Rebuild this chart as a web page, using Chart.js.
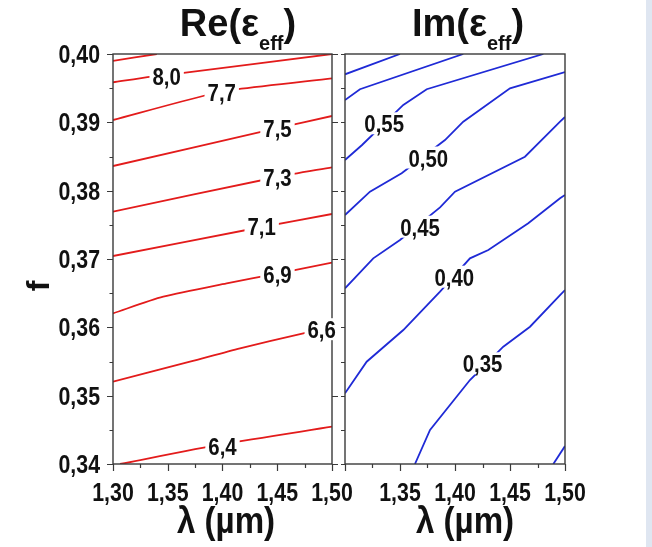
<!DOCTYPE html>
<html>
<head>
<meta charset="utf-8">
<script src="https://cdn.jsdelivr.net/npm/chart.js@4.4.0/dist/chart.umd.min.js"></script>
<style>
body{margin:0;background:#fff;}
#wrap{position:relative;width:652px;height:547px;overflow:hidden;background:#fff;}
#cRe{position:absolute;left:0;top:0;}
#cIm{position:absolute;left:300px;top:0;}
#strip{position:absolute;left:646px;top:0;width:6px;height:547px;background:#dfe6f1;}
</style>
</head>
<body>
<div id="wrap">
<canvas id="cRe" width="360" height="547" style="width:360px;height:547px"></canvas>
<canvas id="cIm" width="346" height="547" style="width:346px;height:547px"></canvas>
<div id="strip"></div>
</div>
<script>
// contour lines, points are [lambda (um), f]
var reTop = [[1.30,0.39898],[1.340,0.40]];
var re80 = [[1.30,0.39586],[1.3353,0.3967],[1.3627,0.3972],[1.50,0.40]];
var re77 = [[1.30,0.39034],[1.3856,0.3940],[1.413,0.39483],[1.50,0.39644]];
var re75 = [[1.30,0.38361],[1.45,0.38915],[1.50,0.39093]];
var re73 = [[1.30,0.37692],[1.45,0.38200],[1.50,0.38342]];
var re71 = [[1.30,0.37044],[1.43,0.37450],[1.50,0.37659]];
var re69 = [[1.30,0.36205],[1.3459,0.36448],[1.4038,0.36644],[1.45,0.36785],[1.50,0.36946]];
var re66 = [[1.30,0.35204],[1.3703,0.35497],[1.416,0.35693],[1.4738,0.35913],[1.49,0.3596]];
var re64 = [[1.3064,0.34],[1.40,0.34290],[1.50,0.34546]];

var reLabelText = ['8,0','7,7','7,5','7,3','7,1','6,9','6,6','6,4'];
var reLabelLam = [1.349,1.3993,1.4502,1.4502,1.4358,1.4502,1.4906,1.400];
var reLabelF = [0.39681,0.39448,0.38913,0.38193,0.37486,0.36778,0.35973,0.34266];

var im1 = [[1.30,0.39703],[1.35,0.40]];
var im2 = [[1.30,0.39327],[1.3136,0.39484],[1.4075,0.40]];
var im55 = [[1.30,0.38449],[1.3155,0.38668],[1.353,0.39254],[1.3743,0.39484],[1.4803,0.40]];
var im50 = [[1.30,0.37644],[1.3227,0.37985],[1.3515,0.38254],[1.3909,0.38741],[1.4075,0.39009],[1.45,0.39497],[1.50,0.39736]];
var im45 = [[1.30,0.36571],[1.3257,0.3701],[1.35,0.37278],[1.3864,0.37756],[1.40,0.37985],[1.4636,0.38497],[1.4955,0.39009],[1.50,0.39078]];
var im40 = [[1.30,0.35034],[1.3197,0.35497],[1.353,0.35961],[1.3864,0.36522],[1.4136,0.3701],[1.4303,0.37132],[1.4666,0.37522],[1.4955,0.37888],[1.50,0.37937]];
var im35 = [[1.3636,0.34],[1.3773,0.34498],[1.4136,0.35229],[1.4439,0.35717],[1.4682,0.36009],[1.4955,0.36473],[1.50,0.36546]];
var im30 = [[1.4894,0.34],[1.50,0.34263]];

var imLabelText = ['0,55','0,50','0,45','0,40','0,35'];
var imLabelLam = [1.3356,1.3757,1.3682,1.3993,1.425];
var imLabelF = [0.38986,0.38485,0.37473,0.36741,0.35474];

var xMin = 1.30, xMax = 1.50, xStep = 0.025;
var yMin = 0.34, yMax = 0.40, yStep = 0.005;

var FONT = '"Liberation Sans", Arial, Helvetica, sans-serif';

var fmt = function(v){
    return v.toFixed(2).replace('.', ',');
};
var isMajorX = function(v){ return Math.round(v*1000) % 50 === 0; };
var isMajorY = function(v){ return Math.round(v*1000) % 10 === 0; };

// bold text squeezed sideways, the original uses a narrow face
var narrowText = function(ctx, text, x, y, size, sx, align, base){
    ctx.save();
    ctx.translate(x, y);
    ctx.scale(sx, 1);
    ctx.font = 'bold ' + size + 'px ' + FONT;
    ctx.textAlign = align;
    ctx.textBaseline = base;
    ctx.fillText(text, 0, 0);
    ctx.restore();
};

var makeSets = function(lines, color, tension){
    return lines.map(function(line){
        return {
            data: line.map(function(p){ return {x: p[0], y: p[1]}; }),
            borderColor: color,
            borderWidth: 1.8,
            pointRadius: 0,
            fill: false,
            tension: tension
        };
    });
};

// frame, tick marks (minor ones shorter) and tick labels
var framePlugin = {
    id: 'frame',
    afterDatasetsDraw: function(chart, args, o){
        var ctx = chart.ctx, a = chart.chartArea;
        var xs = chart.scales.x, ys = chart.scales.y;
        ctx.save();
        ctx.strokeStyle = '#3a3a3a';
        ctx.lineWidth = 1.4;
        ctx.strokeRect(a.left, a.top, a.right - a.left, a.bottom - a.top);
        ctx.beginPath();
        xs.ticks.forEach(function(t){
            var px = Math.round(xs.getPixelForValue(t.value)) + 0.5;
            ctx.moveTo(px, a.bottom);
            ctx.lineTo(px, a.bottom + (isMajorX(t.value) ? 7 : 4));
        });
        ys.ticks.forEach(function(t){
            var py = Math.round(ys.getPixelForValue(t.value)) + 0.5;
            var major = isMajorY(t.value);
            ctx.moveTo(a.left, py);
            ctx.lineTo(a.left - (o.sideMinor ? 4 : (major ? 6 : 3.5)), py);
            if (o.rightTicks && major) {
                ctx.moveTo(a.right, py);
                ctx.lineTo(a.right + 6, py);
            }
        });
        ctx.lineWidth = 1.2;
        ctx.stroke();

        ctx.fillStyle = '#111';
        xs.ticks.forEach(function(t){
            if (!isMajorX(t.value)) return;
            if (o.skipFirst && Math.abs(t.value - xMin) < 1e-6) return;
            narrowText(ctx, fmt(t.value), xs.getPixelForValue(t.value), 501, 26, 0.82, 'center', 'alphabetic');
        });
        if (o.yLabels) {
            ys.ticks.forEach(function(t){
                if (!isMajorY(t.value)) return;
                narrowText(ctx, fmt(t.value), a.left - 13, ys.getPixelForValue(t.value) + 9, 26, 0.82, 'right', 'alphabetic');
            });
        }
        ctx.restore();
    }
};

// contour value labels on a white patch
var labelPlugin = {
    id: 'contourLabels',
    afterDatasetsDraw: function(chart, args, o){
        var ctx = chart.ctx;
        var xs = chart.scales.x, ys = chart.scales.y;
        ctx.save();
        ctx.font = 'bold 24px ' + FONT;
        for (var i = 0; i < o.text.length; i++) {
            var px = xs.getPixelForValue(o.lam[i]);
            var py = ys.getPixelForValue(o.f[i]);
            var w = ctx.measureText(o.text[i]).width * 0.85;
            ctx.fillStyle = '#fff';
            ctx.fillRect(px - w/2 - 3, py - 11, w + 6, 22);
            ctx.fillStyle = '#111';
            narrowText(ctx, o.text[i], px, py + 9, 24, 0.85, 'center', 'alphabetic');
        }
        ctx.restore();
    }
};

// panel title, x title and f
var textPlugin = {
    id: 'panelText',
    afterDraw: function(chart, args, o){
        var ctx = chart.ctx;
        ctx.save();
        ctx.fillStyle = '#111';
        ctx.textBaseline = 'alphabetic';
        var big = 'bold 38px ' + FONT, sub = 'bold 20px ' + FONT;
        ctx.font = big;
        var w1 = ctx.measureText(o.head + '(\u03b5').width;
        var w3 = ctx.measureText(')').width;
        ctx.font = sub;
        var w2 = ctx.measureText('eff').width;
        var x0 = o.titleX - (w1 + w2 + w3) / 2;
        ctx.textAlign = 'left';
        ctx.font = big;
        ctx.fillText(o.head + '(\u03b5', x0, 36);
        ctx.font = sub;
        ctx.fillText('eff', x0 + w1, 50);
        ctx.font = big;
        ctx.fillText(')', x0 + w1 + w2, 36);

        narrowText(ctx, '\u03bb (\u00b5m)', o.axisX, 533, 36, 0.92, 'center', 'alphabetic');

        if (o.showF) {
            ctx.translate(40, 286);
            ctx.rotate(-Math.PI / 2);
            ctx.font = 'bold 32px ' + FONT;
            ctx.textAlign = 'center';
            ctx.textBaseline = 'middle';
            ctx.fillText('f', 0, 0);
        }
        ctx.restore();
    }
};

var makeChart = function(id, sets, cfg){
    var ctx = document.getElementById(id).getContext('2d');
    return new Chart(ctx, {
        type: 'line',
        data: { datasets: sets },
        plugins: [framePlugin, labelPlugin, textPlugin],
        options: {
            responsive: false,
            animation: false,
            events: [],
            layout: { padding: { left: 0, top: 54, right: cfg.padRight, bottom: 0 } },
            scales: {
                x: {
                    type: 'linear',
                    min: xMin, max: xMax,
                    afterFit: function(s){ s.height = 83; },
                    grid: { drawOnChartArea: false, drawTicks: false },
                    border: { display: false },
                    ticks: { display: false, stepSize: xStep, autoSkip: false }
                },
                y: {
                    type: 'linear',
                    min: yMin, max: yMax,
                    afterFit: function(s){ s.width = cfg.yWidth; },
                    grid: { drawOnChartArea: false, drawTicks: false },
                    border: { display: false },
                    ticks: { display: false, stepSize: yStep, autoSkip: false }
                }
            },
            plugins: {
                legend: { display: false },
                tooltip: { enabled: false },
                frame: cfg.frame,
                contourLabels: cfg.labels,
                panelText: cfg.text
            }
        }
    });
};

makeChart('cRe',
    makeSets([reTop, re80, re77, re75, re73, re71, re69, re66, re64], '#e31b1b', 0.25),
    {
        padRight: 28, yWidth: 113,
        frame: { rightTicks: true, sideMinor: false, yLabels: true, skipFirst: false },
        labels: { text: reLabelText, lam: reLabelLam, f: reLabelF },
        text: { head: 'Re', titleX: 238, axisX: 226, showF: true }
    });

makeChart('cIm',
    makeSets([im1, im2, im55, im50, im45, im40, im35, im30], '#1f2ad6', 0),
    {
        padRight: 81, yWidth: 45,
        frame: { rightTicks: false, sideMinor: true, yLabels: false, skipFirst: true },
        labels: { text: imLabelText, lam: imLabelLam, f: imLabelF },
        text: { head: 'Im', titleX: 168, axisX: 165, showF: false }
    });
</script>
</body>
</html>
